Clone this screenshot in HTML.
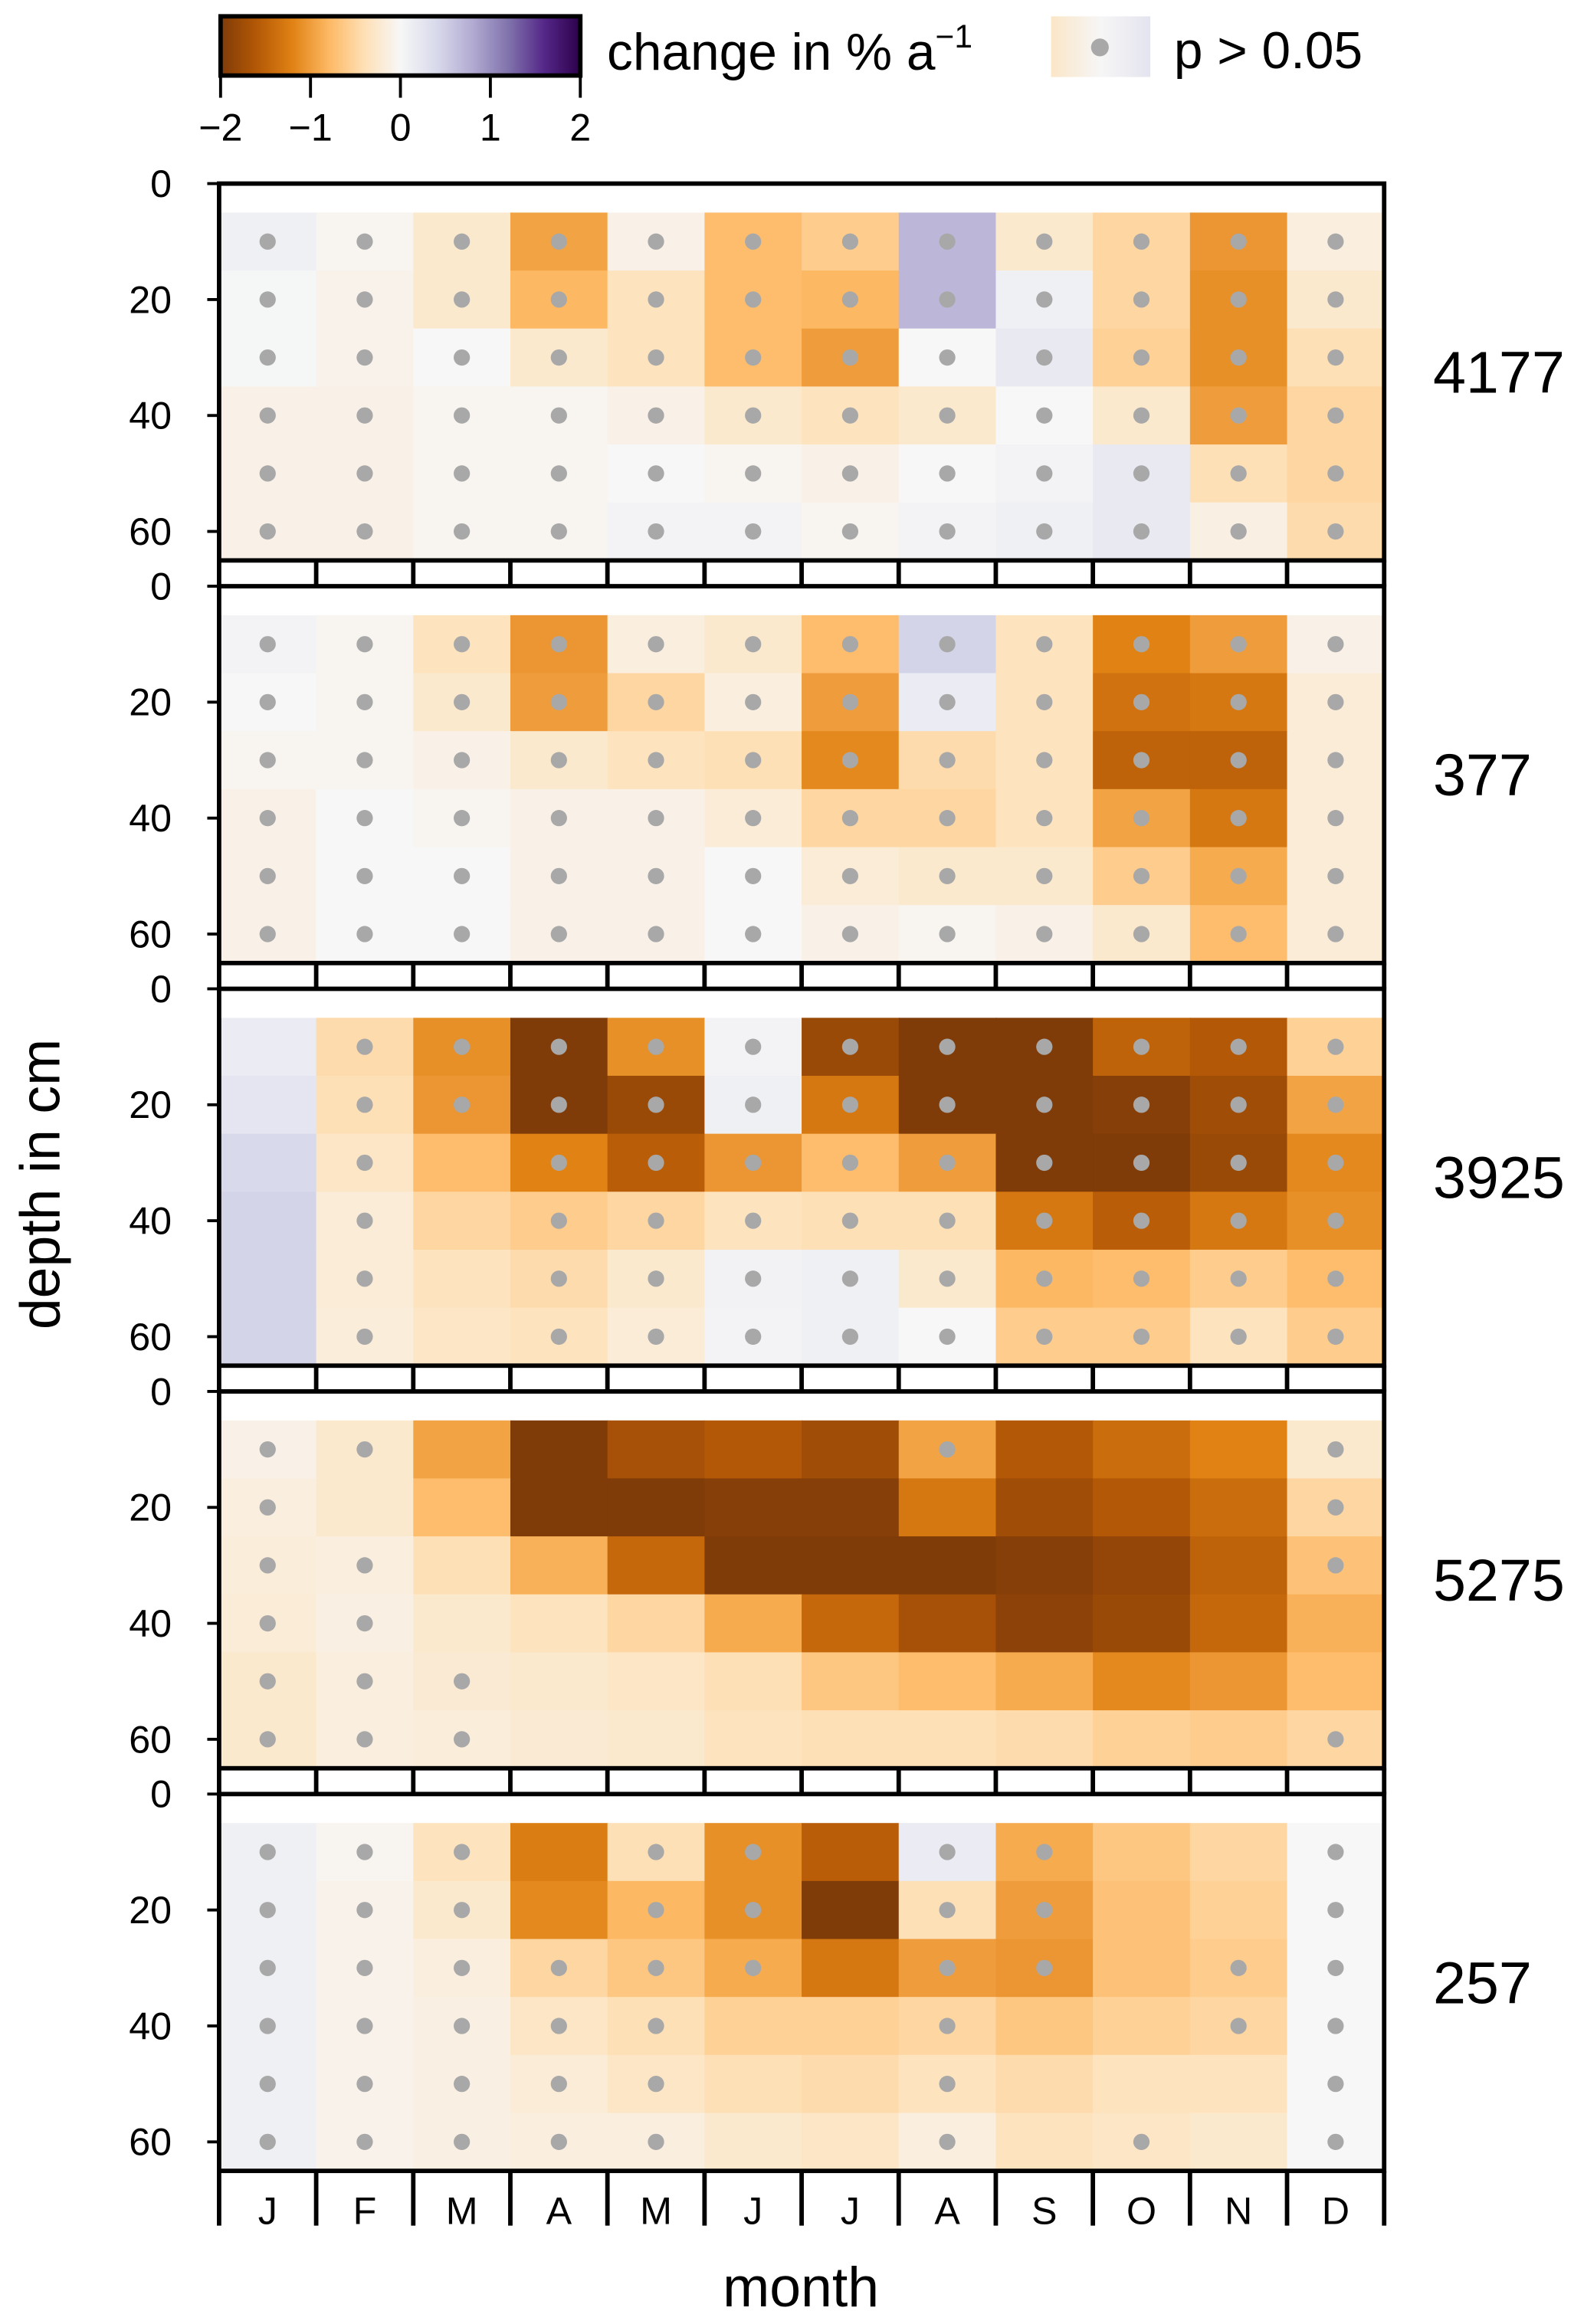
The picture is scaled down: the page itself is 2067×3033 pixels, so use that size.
<!DOCTYPE html>
<html><head><meta charset="utf-8"><style>
html,body{margin:0;padding:0;background:#fff}
svg{display:block;font-family:"Liberation Sans",sans-serif}
</style></head><body>
<svg id="chart" width="2067" height="3033" viewBox="0 0 1070 1570" xmlns="http://www.w3.org/2000/svg">
<defs>
<linearGradient id="cbar" x1="0" x2="1" y1="0" y2="0">
<stop offset="0" stop-color="#7f3b08"/><stop offset="0.1" stop-color="#b35806"/><stop offset="0.2" stop-color="#e08214"/><stop offset="0.3" stop-color="#fdb863"/><stop offset="0.4" stop-color="#fee0b6"/><stop offset="0.5" stop-color="#f7f7f7"/><stop offset="0.6" stop-color="#d8daeb"/><stop offset="0.7" stop-color="#b2abd2"/><stop offset="0.8" stop-color="#8073ac"/><stop offset="0.9" stop-color="#542788"/><stop offset="1" stop-color="#2d004b"/>
</linearGradient>
<linearGradient id="pbox" x1="0" x2="1"><stop offset="0" stop-color="#fbe6c8"/><stop offset="0.5" stop-color="#f6f6f6"/><stop offset="1" stop-color="#e4e4ef"/></linearGradient>
</defs>
<g>
<rect x="149" y="11" width="243" height="40" fill="url(#cbar)" stroke="#000" stroke-width="3"/>
<g id="cbticks"></g>
<text x="410" y="47" font-size="35">change in % a<tspan dy="-15" font-size="22">−1</tspan></text>
<rect x="710" y="11" width="67" height="41" fill="url(#pbox)"/>
<circle cx="743" cy="32" r="6" fill="#a8a8a8"/>
<text x="793" y="46" font-size="35">p &gt; 0.05</text>
</g>
<g id="panels"></g>
<text transform="translate(40,800) rotate(-90)" text-anchor="middle" font-size="38">depth in cm</text>
<text x="541" y="1558" text-anchor="middle" font-size="38">month</text>
</svg>
<script>
const months = ["J","F","M","A","M","J","J","A","S","O","N","D"];
const depths = [10,20,30,40,50,60];
const stations = ["4177","377","3925","5275","257"];
const depthTicks = [0,20,40,60];
const cbTicks = [-2,-1,0,1,2];
const vals4177 = [
[0.1,-0.05,-0.25,-0.95,-0.1,-0.75,-0.6,0.7,-0.25,-0.5,-1.05,-0.15],
[0.02,-0.08,-0.25,-0.8,-0.35,-0.75,-0.8,0.7,0.1,-0.5,-1.1,-0.25],
[0.02,-0.08,0,-0.25,-0.35,-0.75,-1.0,0,0.2,-0.55,-1.1,-0.4],
[-0.1,-0.1,-0.05,-0.05,-0.1,-0.25,-0.35,-0.25,0,-0.25,-1.0,-0.5],
[-0.1,-0.1,-0.05,-0.05,0,-0.05,-0.1,0,0.05,0.2,-0.4,-0.5],
[-0.1,-0.1,-0.05,-0.05,0.05,0.05,-0.05,0.05,0.1,0.2,-0.12,-0.45]];
const vals377 = [
[0.05,-0.05,-0.35,-1.05,-0.15,-0.25,-0.75,0.45,-0.35,-1.2,-1.0,-0.1],
[0,-0.05,-0.25,-1.0,-0.5,-0.15,-1.0,0.15,-0.35,-1.35,-1.3,-0.2],
[-0.05,-0.05,-0.1,-0.25,-0.35,-0.4,-1.15,-0.45,-0.35,-1.5,-1.5,-0.2],
[-0.1,0,-0.05,-0.1,-0.1,-0.2,-0.5,-0.5,-0.35,-0.95,-1.3,-0.2],
[-0.1,0,0,-0.1,-0.1,0,-0.2,-0.25,-0.25,-0.6,-0.9,-0.2],
[-0.1,0,0,-0.1,-0.1,0,-0.1,-0.05,-0.1,-0.25,-0.75,-0.2]];
const vals3925 = [
[0.15,-0.45,-1.1,-2.0,-1.1,0.05,-1.8,-2.0,-2.0,-1.5,-1.6,-0.55],
[0.25,-0.4,-1.05,-2.0,-1.8,0.1,-1.3,-2.0,-2.0,-1.95,-1.75,-0.95],
[0.4,-0.3,-0.75,-1.2,-1.55,-1.05,-0.75,-1.0,-2.0,-2.0,-1.8,-1.15],
[0.45,-0.2,-0.5,-0.6,-0.5,-0.35,-0.4,-0.4,-1.3,-1.55,-1.3,-1.1],
[0.45,-0.2,-0.35,-0.45,-0.25,0.07,0.1,-0.25,-0.8,-0.75,-0.6,-0.75],
[0.45,-0.18,-0.3,-0.35,-0.2,0.05,0.1,0,-0.6,-0.6,-0.35,-0.6]];
const vals5275 = [
[-0.1,-0.25,-0.95,-2.0,-1.7,-1.6,-1.75,-0.95,-1.6,-1.4,-1.2,-0.25],
[-0.15,-0.25,-0.75,-2.0,-2.0,-1.95,-1.95,-1.3,-1.75,-1.6,-1.4,-0.5],
[-0.18,-0.15,-0.4,-0.85,-1.45,-2.0,-2.0,-2.0,-1.95,-1.85,-1.5,-0.7],
[-0.2,-0.12,-0.25,-0.35,-0.5,-0.9,-1.45,-1.7,-1.9,-1.8,-1.45,-0.85],
[-0.25,-0.15,-0.22,-0.25,-0.3,-0.4,-0.65,-0.75,-0.9,-1.15,-1.05,-0.75],
[-0.25,-0.15,-0.18,-0.22,-0.25,-0.35,-0.4,-0.4,-0.45,-0.55,-0.6,-0.5]];
const vals257 = [
[0.1,-0.05,-0.35,-1.25,-0.4,-1.1,-1.55,0.15,-0.9,-0.65,-0.5,0],
[0.1,-0.08,-0.25,-1.15,-0.8,-1.1,-2.0,-0.4,-1.0,-0.7,-0.55,0],
[0.1,-0.08,-0.15,-0.5,-0.65,-0.9,-1.3,-1.0,-1.05,-0.7,-0.6,0],
[0.1,-0.08,-0.12,-0.3,-0.4,-0.55,-0.55,-0.5,-0.65,-0.55,-0.5,0],
[0.1,-0.08,-0.12,-0.2,-0.3,-0.4,-0.45,-0.35,-0.45,-0.35,-0.35,0],
[0.1,-0.08,-0.12,-0.15,-0.15,-0.25,-0.3,-0.15,-0.35,-0.3,-0.25,0]];
// 1 = p>0.05 (dot)
const ns4177 = [[1,1,1,1,1,1,1,1,1,1,1,1],[1,1,1,1,1,1,1,1,1,1,1,1],[1,1,1,1,1,1,1,1,1,1,1,1],[1,1,1,1,1,1,1,1,1,1,1,1],[1,1,1,1,1,1,1,1,1,1,1,1],[1,1,1,1,1,1,1,1,1,1,1,1]];
const ns377 = [[1,1,1,1,1,1,1,1,1,1,1,1],[1,1,1,1,1,1,1,1,1,1,1,1],[1,1,1,1,1,1,1,1,1,1,1,1],[1,1,1,1,1,1,1,1,1,1,1,1],[1,1,1,1,1,1,1,1,1,1,1,1],[1,1,1,1,1,1,1,1,1,1,1,1]];
const ns3925 = [[0,1,1,1,1,1,1,1,1,1,1,1],[0,1,1,1,1,1,1,1,1,1,1,1],[0,1,0,1,1,1,1,1,1,1,1,1],[0,1,0,1,1,1,1,1,1,1,1,1],[0,1,0,1,1,1,1,1,1,1,1,1],[0,1,0,1,1,1,1,1,1,1,1,1]];
const ns5275 = [[1,1,0,0,0,0,0,1,0,0,0,1],[1,0,0,0,0,0,0,0,0,0,0,1],[1,1,0,0,0,0,0,0,0,0,0,1],[1,1,0,0,0,0,0,0,0,0,0,0],[1,1,1,0,0,0,0,0,0,0,0,0],[1,1,1,0,0,0,0,0,0,0,0,1]];
const ns257 = [[1,1,1,0,1,1,0,1,1,0,0,1],[1,1,1,0,1,1,0,1,1,0,0,1],[1,1,1,1,1,1,0,1,1,0,1,1],[1,1,1,1,1,0,0,1,0,0,1,1],[1,1,1,1,1,0,0,1,0,0,0,1],[1,1,1,1,1,0,0,1,0,1,0,1]];
const allVals = [vals4177, vals377, vals3925, vals5275, vals257];
const allNs = [ns4177, ns377, ns3925, ns5275, ns257];

const NS = "http://www.w3.org/2000/svg";
const stops = ["#7f3b08","#b35806","#e08214","#fdb863","#fee0b6","#f7f7f7","#d8daeb","#b2abd2","#8073ac","#542788","#2d004b"];
function hex(h){return [1,3,5].map(i=>parseInt(h.substr(i,2),16));}
function color(v){
  let t=(Math.max(-2,Math.min(2,v))+2)/4*10; let i=Math.min(9,Math.floor(t)); let f=t-i;
  const a=hex(stops[i]), b=hex(stops[i+1]);
  return "rgb("+a.map((c,k)=>Math.round(c+(b[k]-c)*f)).join(",")+")";
}
const X0=148, X1=935, colW=(X1-X0)/12;
const PANEL_TOP=124, PANEL_STEP=272, PX_PER_CM=(359-124)/60;
function xCol(i){return X0+i*colW;}
function yDepth(p,d){return PANEL_TOP+p*PANEL_STEP+d*PX_PER_CM;}
function cbX(v){return 149+(v+2)/4*243;}
function mk(tag,attrs,parent){const e=document.createElementNS(NS,tag);for(const k in attrs)e.setAttribute(k,attrs[k]);parent.appendChild(e);return e;}

const cbg=document.getElementById('cbticks');
cbTicks.forEach(v=>{
  const l=mk('line',{x1:cbX(v),x2:cbX(v),y1:51,y2:66,stroke:'#000','stroke-width':2},cbg);
  
  
  const t=mk('text',{x:cbX(v),y:95,'text-anchor':'middle','font-size':26},cbg);
  
  
  t.textContent=(v<0?'−':'')+Math.abs(v);
});

const pg=document.getElementById('panels');
stations.forEach((st,p)=>{
  const g=mk('g',{},pg);
  
  
  const vals=allVals[p], ns=allNs[p];
  depths.forEach((d,r)=>{
    months.forEach((m,c)=>{
      const y0=yDepth(p,d-5), y1=yDepth(p,d+5);
      const rc=mk('rect',{x:xCol(c),y:y0,width:colW+0.5,height:y1-y0+0.5,fill:color(vals[r][c])},g);
      
      
      if(ns[r][c]){
        const dot=mk('circle',{cx:xCol(c)+colW/2,cy:yDepth(p,d),r:5.5,fill:'#a8a8a8'},g);
        
        
      }
    });
  });
  const top=yDepth(p,0), bot=yDepth(p,65);
  const fr=mk('rect',{x:X0,y:top,width:X1-X0,height:bot-top,fill:'none',stroke:'#000','stroke-width':3},g);
  
  
  const tickLen = p===stations.length-1 ? 37 : 18;
  for(let k=0;k<=12;k++){
    const l=mk('line',{x1:xCol(k),x2:xCol(k),y1:bot,y2:bot+tickLen,stroke:'#000','stroke-width':3},g);
    
    
  }
  depthTicks.forEach(d=>{
    const l=mk('line',{x1:X0-8,x2:X0,y1:yDepth(p,d),y2:yDepth(p,d),stroke:'#000','stroke-width':2},g);
    
    
    const t=mk('text',{x:116,y:yDepth(p,d)+9,'text-anchor':'end','font-size':26},g);
    
    
    t.textContent=d;
  });
  const sl=mk('text',{x:968,y:(top+bot)/2+14,'font-size':40},g);
  
  
  sl.textContent=st;
});
const lastBot=yDepth(stations.length-1,65);
months.forEach((m,c)=>{
  const t=mk('text',{x:xCol(c)+colW/2,y:lastBot+36,'text-anchor':'middle','font-size':26},pg);
  
  
  t.textContent=m;
});
</script>
</body></html>
